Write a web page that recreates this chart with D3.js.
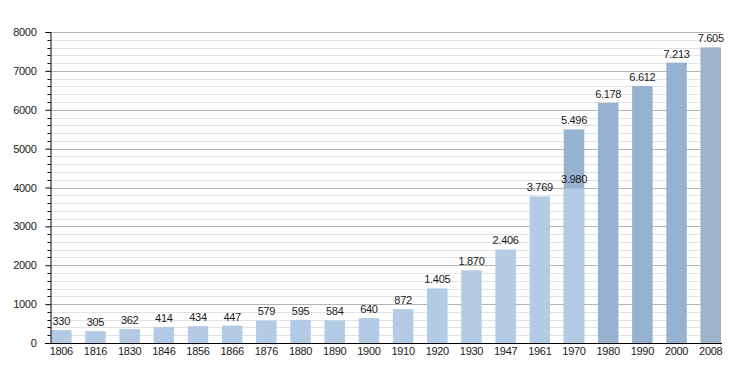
<!DOCTYPE html>
<html>
<head>
<meta charset="utf-8">
<script src="https://cdn.jsdelivr.net/npm/d3@7"></script>
<style>
  body { margin: 0; background: #fff; }
  text { font-family: "Liberation Sans", Arial, sans-serif; fill: #1a1a1a; letter-spacing: -0.3px; }
</style>
</head>
<body>
<svg id="chart" width="750" height="373"></svg>
<script>
// census years and population
var years = ['1806', '1816', '1830', '1846', '1856', '1866', '1876', '1880', '1890', '1900',
  '1910', '1920', '1930', '1947', '1961', '1970', '1980', '1990', '2000', '2008'];
var population = [330, 305, 362, 414, 434, 447, 579, 595, 584, 640,
  872, 1405, 1870, 2406, 3769, 5496, 6178, 6612, 7213, 7605];
// 1970 has a second (lower) figure drawn inside the bar
var overlayYears = ['1970'];
var overlayValues = [3980];
var yTicks = [0, 1000, 2000, 3000, 4000, 5000, 6000, 7000, 8000];

var svg = d3.select('#chart');
var plotLeft = 50, plotRight = 722, plotTop = 32, plotBottom = 343;

var x = d3.scaleBand().domain(years).range([plotLeft, plotRight])
  .paddingInner(0.4).paddingOuter(0.03);
var y = d3.scaleLinear().domain([0, 8000]).range([plotBottom, plotTop]);

var fmt = v => d3.format(',')(v).replace(/,/g, '.');
var lightCol = '#b3cbe4', darkCol = '#97b2cf';

// grid: minor every 200, major every 1000
var minor = d3.range(200, 8001, 200).filter(v => v % 1000 !== 0);
svg.append('g').selectAll('line').data(minor).enter().append('line')
  .attr('x1', plotLeft).attr('x2', plotRight - 1)
  .attr('y1', d => Math.round(y(d)) + 0.5).attr('y2', d => Math.round(y(d)) + 0.5)
  .attr('stroke', '#e2e2e2');
svg.append('g').selectAll('line').data(yTicks.slice(1)).enter().append('line')
  .attr('x1', plotLeft).attr('x2', plotRight - 1)
  .attr('y1', d => Math.round(y(d)) + 0.5).attr('y2', d => Math.round(y(d)) + 0.5)
  .attr('stroke', '#b4b4b4');

// bars
var idx1970 = years.indexOf('1970');
svg.append('g').selectAll('rect').data(years).enter().append('rect')
  .attr('x', d => x(d))
  .attr('width', x.bandwidth())
  .attr('y', (d, i) => y(population[i]))
  .attr('height', (d, i) => y(0) - y(population[i]))
  .attr('fill', (d, i) => i < idx1970 ? lightCol : (d === '2008' ? '#9db2cb' : darkCol));

svg.append('g').selectAll('rect').data(overlayYears).enter().append('rect')
  .attr('x', d => x(d))
  .attr('width', x.bandwidth())
  .attr('y', (d, i) => y(overlayValues[i]))
  .attr('height', (d, i) => y(0) - y(overlayValues[i]))
  .attr('fill', lightCol);

// value labels
svg.append('g').selectAll('text').data(years).enter().append('text')
  .attr('x', d => x(d) + x.bandwidth() / 2)
  .attr('y', (d, i) => y(population[i]) - 5)
  .attr('text-anchor', 'middle')
  .attr('font-size', 11)
  .text((d, i) => fmt(population[i]));

svg.append('g').selectAll('text').data(overlayYears).enter().append('text')
  .attr('x', d => x(d) + x.bandwidth() / 2)
  .attr('y', (d, i) => y(overlayValues[i]) - 5)
  .attr('text-anchor', 'middle')
  .attr('font-size', 11)
  .text((d, i) => fmt(overlayValues[i]));

// y axis with minor ticks
var yAxis = svg.append('g').attr('transform', `translate(${plotLeft + 0.5},0)`);
yAxis.call(d3.axisLeft(y).tickValues(yTicks).tickSize(5).tickPadding(9).tickFormat(d3.format('d')));
yAxis.selectAll('text').attr('font-size', 11).style('font-family', '"Liberation Sans", Arial, sans-serif');
yAxis.select('.domain').attr('stroke', '#000');
yAxis.selectAll('.tick line').attr('stroke', '#000');
yAxis.selectAll('.minor').data(minor).enter().append('line')
  .attr('class', 'minor')
  .attr('x1', -3).attr('x2', 0)
  .attr('y1', d => Math.round(y(d)) + 0.5).attr('y2', d => Math.round(y(d)) + 0.5)
  .attr('stroke', '#000');

// x axis
var xAxis = svg.append('g').attr('transform', `translate(0,${plotBottom + 0.5})`);
xAxis.call(d3.axisBottom(x).tickSize(0).tickPadding(4));
xAxis.select('.domain').attr('d', `M${plotLeft - 5},0H${plotRight}`).attr('stroke', '#000');
xAxis.selectAll('text').attr('font-size', 11).style('font-family', '"Liberation Sans", Arial, sans-serif');
</script>
</body>
</html>
